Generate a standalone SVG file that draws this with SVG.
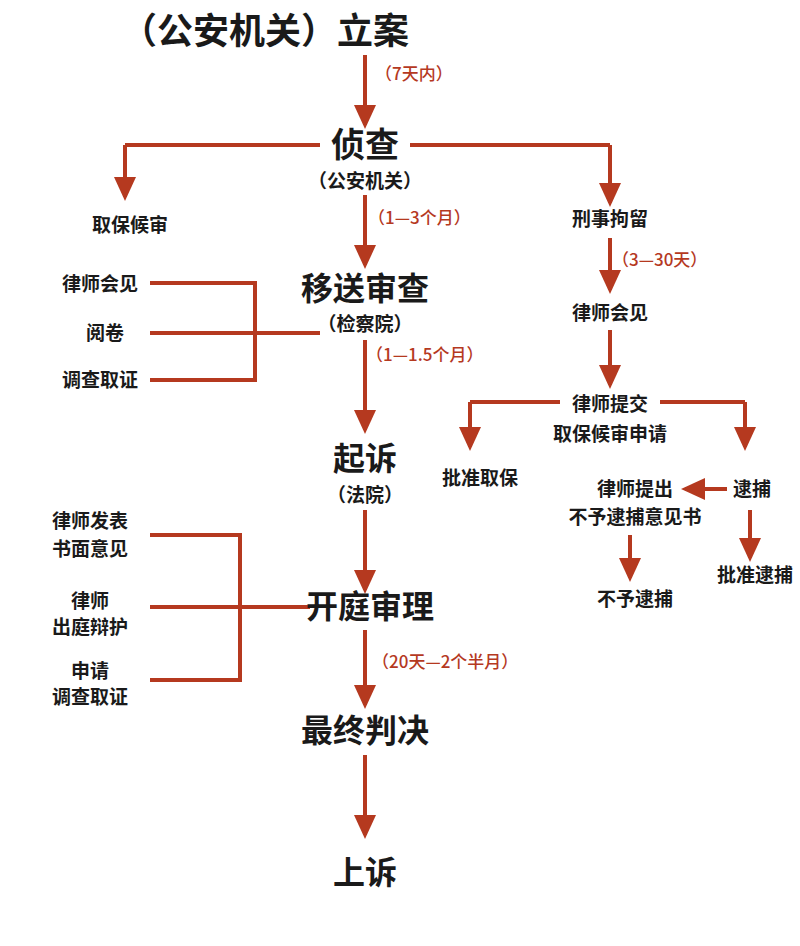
<svg xmlns="http://www.w3.org/2000/svg" width="800" height="946" viewBox="0 0 800 946">
<style>
.t{font-family:"Noto Sans CJK SC",sans-serif;font-weight:bold;fill:#1a1a1a;text-anchor:middle}
.l{font-family:"Noto Sans CJK SC",sans-serif;fill:#b5391f;font-size:17px;font-weight:500}
.c{stroke:#b5391f;stroke-width:4;fill:none}
.a{stroke:#b5391f;stroke-width:4;fill:none;marker-end:url(#ah)}
</style>
<defs><marker id="ah" markerUnits="userSpaceOnUse" markerWidth="24" markerHeight="24" refX="20" refY="12" orient="auto"><path d="M0,1 L24,12 L0,23 Z" fill="#b5391f"/></marker></defs>
<rect width="800" height="946" fill="#fff"/>
<g id="connectors">
<path class="a" d="M365,55 V125"/>
<path class="c" d="M320,145 H125"/><path class="a" d="M125,145 V197"/>
<path class="c" d="M410,145 H610"/><path class="a" d="M610,145 V203"/>
<path class="a" d="M365,195 V265"/>
<path class="c" d="M150,283 H255 V380 H150 M150,333 H320"/>
<path class="a" d="M365,340 V430"/>
<path class="a" d="M365,510 V590"/>
<path class="c" d="M150,535 H240 V680 H150 M150,607 H310"/>
<path class="a" d="M365,630 V705"/>
<path class="a" d="M365,755 V835"/>
<path class="a" d="M610,238 V290"/>
<path class="a" d="M610,330 V385"/>
<path class="c" d="M560,402 H470"/><path class="a" d="M470,402 V447"/>
<path class="c" d="M660,402 H745"/><path class="a" d="M745,402 V447"/>
<path class="a" d="M727,489 H685"/>
<path class="a" d="M630,535 V578"/>
<path class="a" d="M750,510 V558"/>
</g>
<g id="n-lian"><text class="t" x="265" y="44" font-size="36">（公安机关）立案</text></g>
<text class="l" x="375" y="80">（7天内）</text>
<g id="n-zhencha"><text class="t" x="365" y="157" font-size="34">侦查</text><text class="t" x="365" y="188" font-size="19">（公安机关）</text></g>
<g id="n-qubao1"><text class="t" x="130" y="232" font-size="19">取保候审</text></g>
<g id="n-xingshi"><text class="t" x="610" y="226" font-size="19">刑事拘留</text></g>
<text class="l" x="368" y="224">（1—3个月）</text>
<g id="n-yisong"><text class="t" x="365" y="300" font-size="32">移送审查</text><text class="t" x="365" y="331" font-size="19">（检察院）</text></g>
<g id="n-l1"><text class="t" x="100" y="291" font-size="19">律师会见</text></g>
<g id="n-l2"><text class="t" x="105" y="340" font-size="19">阅卷</text></g>
<g id="n-l3"><text class="t" x="100" y="387" font-size="19">调查取证</text></g>
<text class="l" x="366" y="361">（1—1.5个月）</text>
<g id="n-qisu"><text class="t" x="365" y="470" font-size="32">起诉</text><text class="t" x="365" y="502" font-size="19">（法院）</text></g>
<g id="n-kt"><text class="t" x="370" y="618" font-size="32">开庭审理</text></g>
<g id="n-k1"><text class="t" x="90" y="528" font-size="19">律师发表</text><text class="t" x="90" y="556" font-size="19">书面意见</text></g>
<g id="n-k2"><text class="t" x="90" y="608" font-size="19">律师</text><text class="t" x="90" y="634" font-size="19">出庭辩护</text></g>
<g id="n-k3"><text class="t" x="90" y="678" font-size="19">申请</text><text class="t" x="90" y="704" font-size="19">调查取证</text></g>
<text class="l" x="372" y="668">（20天—2个半月）</text>
<g id="n-zz"><text class="t" x="365" y="742" font-size="32">最终判决</text></g>
<g id="n-ss"><text class="t" x="365" y="884" font-size="32">上诉</text></g>
<text class="l" x="612" y="266">（3—30天）</text>
<g id="n-r1"><text class="t" x="610" y="320" font-size="19">律师会见</text></g>
<g id="n-r2"><text class="t" x="610" y="411" font-size="19">律师提交</text><text class="t" x="610" y="441" font-size="19">取保候审申请</text></g>
<g id="n-r3"><text class="t" x="480" y="485" font-size="19">批准取保</text></g>
<g id="n-r4"><text class="t" x="752" y="496" font-size="19">逮捕</text></g>
<g id="n-r5"><text class="t" x="635" y="496" font-size="19">律师提出</text><text class="t" x="635" y="524" font-size="19">不予逮捕意见书</text></g>
<g id="n-r6"><text class="t" x="635" y="606" font-size="19">不予逮捕</text></g>
<g id="n-r7"><text class="t" x="755" y="582" font-size="19">批准逮捕</text></g>
</svg>
